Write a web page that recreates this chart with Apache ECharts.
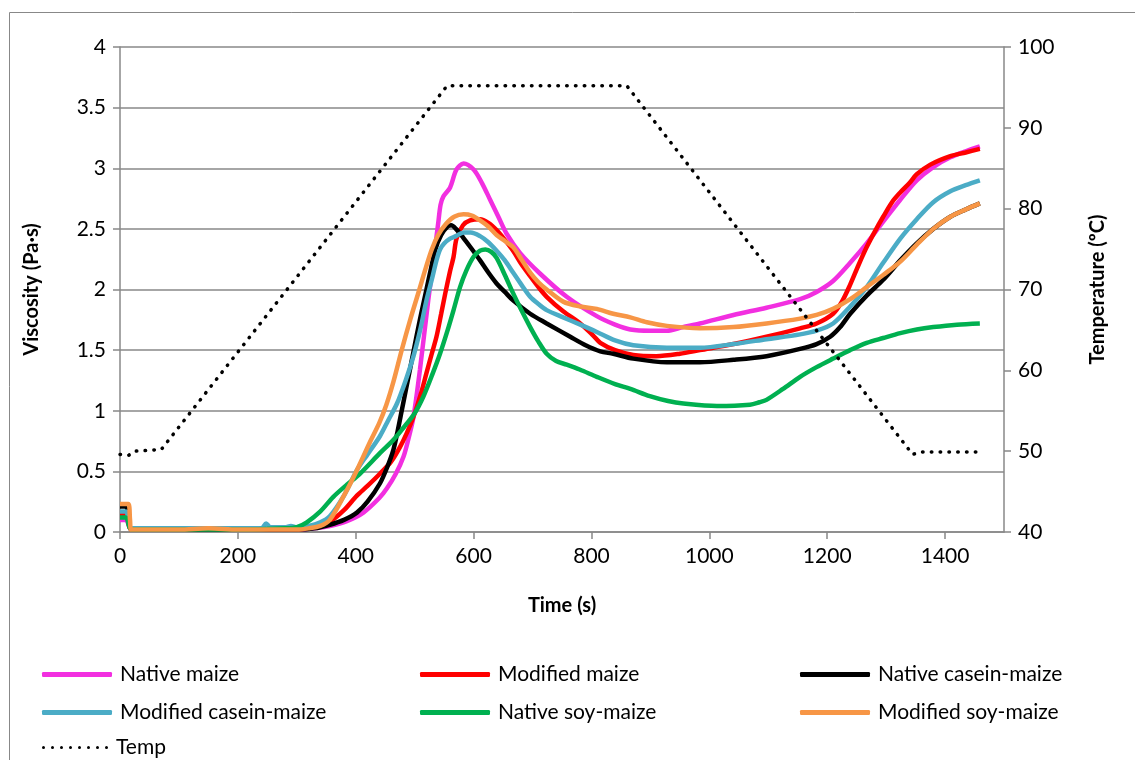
<!DOCTYPE html>
<html>
<head>
<meta charset="utf-8">
<script src="https://cdn.jsdelivr.net/npm/echarts@6/dist/echarts.min.js"></script>
<style>
  html, body { margin: 0; padding: 0; background: #fff; }
  #main { width: 1135px; height: 760px; }
</style>
</head>
<body>
<div id="main"></div>
<script>
// values, [time (s), viscosity (Pa·s)]
const nativeMaize = [[0,0.10],[10,0.10],[16,0.04],[20,0.02],[100,0.02],[200,0.02],[300,0.02],[330,0.03],[356,0.05],[385,0.09],[413,0.16],[440,0.28],[453,0.36],[468,0.48],[481,0.62],[490,0.78],[498,0.95],[509,1.34],[523,1.91],[532,2.24],[540,2.55],[544,2.70],[549,2.77],[560,2.84],[571,2.99],[583,3.04],[600,2.99],[614,2.88],[628,2.74],[642,2.60],[656,2.46],[679,2.30],[713,2.13],[758,1.94],[809,1.78],[840,1.71],[866,1.67],[900,1.66],[928,1.66],[955,1.69],[984,1.72],[1041,1.79],[1097,1.85],[1154,1.92],[1182,1.98],[1210,2.07],[1239,2.22],[1267,2.38],[1295,2.56],[1324,2.74],[1352,2.90],[1380,3.01],[1409,3.09],[1435,3.14],[1459,3.18]];
const modifiedMaize = [[0,0.15],[10,0.15],[16,0.04],[20,0.02],[100,0.02],[200,0.02],[300,0.02],[330,0.04],[356,0.085],[380,0.18],[402,0.30],[420,0.38],[441,0.48],[460,0.58],[475,0.70],[487,0.82],[498,0.95],[510,1.13],[520,1.31],[529,1.47],[537,1.61],[545,1.80],[552,1.97],[560,2.15],[566,2.27],[571,2.42],[582,2.53],[594,2.57],[611,2.58],[625,2.55],[639,2.49],[653,2.41],[667,2.32],[681,2.21],[696,2.11],[710,2.02],[724,1.94],[752,1.82],[781,1.72],[803,1.62],[815,1.56],[840,1.50],[871,1.46],[910,1.45],[950,1.47],[984,1.50],[1041,1.55],[1097,1.61],[1154,1.68],[1182,1.72],[1210,1.80],[1225,1.90],[1239,2.04],[1253,2.20],[1267,2.35],[1281,2.48],[1295,2.60],[1310,2.72],[1324,2.80],[1340,2.88],[1352,2.95],[1375,3.03],[1409,3.10],[1435,3.13],[1459,3.16]];
const nativeCaseinMaize = [[0,0.21],[10,0.21],[16,0.05],[20,0.02],[100,0.02],[200,0.02],[300,0.02],[330,0.03],[356,0.06],[380,0.10],[402,0.16],[420,0.25],[441,0.40],[453,0.53],[464,0.68],[471,0.83],[478,1.00],[485,1.17],[492,1.34],[503,1.61],[511,1.80],[520,2.00],[528,2.18],[535,2.33],[545,2.45],[556,2.52],[562,2.53],[570,2.50],[582,2.43],[596,2.34],[611,2.24],[625,2.14],[639,2.05],[653,1.98],[667,1.91],[696,1.80],[724,1.72],[764,1.61],[790,1.54],[815,1.49],[837,1.47],[871,1.43],[928,1.40],[984,1.40],[1041,1.42],[1097,1.45],[1154,1.51],[1182,1.55],[1205,1.61],[1222,1.69],[1239,1.80],[1267,1.95],[1295,2.08],[1324,2.24],[1352,2.38],[1380,2.50],[1409,2.60],[1435,2.66],[1459,2.71]];
const modifiedCaseinMaize = [[0,0.17],[10,0.17],[16,0.05],[20,0.03],[100,0.03],[200,0.03],[240,0.03],[248,0.07],[255,0.04],[280,0.04],[290,0.05],[300,0.04],[320,0.05],[340,0.08],[356,0.13],[380,0.30],[402,0.51],[420,0.64],[441,0.79],[455,0.92],[470,1.06],[484,1.24],[498,1.45],[510,1.68],[520,1.91],[529,2.08],[537,2.24],[543,2.33],[550,2.38],[560,2.42],[570,2.44],[583,2.47],[595,2.47],[611,2.44],[625,2.39],[639,2.32],[653,2.24],[667,2.14],[681,2.04],[696,1.94],[710,1.88],[724,1.83],[752,1.77],[781,1.71],[809,1.65],[840,1.58],[871,1.54],[928,1.52],[984,1.52],[1041,1.55],[1097,1.59],[1154,1.63],[1182,1.66],[1210,1.72],[1239,1.86],[1267,2.02],[1295,2.22],[1324,2.42],[1352,2.58],[1380,2.72],[1409,2.81],[1435,2.86],[1459,2.90]];
const nativeSoyMaize = [[0,0.12],[10,0.12],[16,0.04],[20,0.02],[100,0.02],[200,0.02],[280,0.03],[300,0.04],[317,0.08],[340,0.17],[362,0.29],[385,0.39],[407,0.48],[441,0.65],[464,0.76],[481,0.86],[500,0.98],[515,1.12],[530,1.30],[543,1.47],[555,1.65],[566,1.83],[577,2.02],[588,2.16],[600,2.27],[611,2.32],[620,2.33],[630,2.31],[639,2.26],[653,2.12],[667,1.97],[681,1.83],[696,1.69],[710,1.57],[724,1.47],[740,1.41],[758,1.38],[780,1.34],[809,1.28],[840,1.22],[866,1.18],[899,1.12],[930,1.08],[956,1.06],[1013,1.04],[1069,1.05],[1085,1.07],[1097,1.09],[1125,1.18],[1154,1.28],[1182,1.36],[1210,1.43],[1239,1.50],[1267,1.56],[1295,1.60],[1324,1.64],[1352,1.67],[1380,1.69],[1420,1.71],[1459,1.72]];
const modifiedSoyMaize = [[0,0.23],[14,0.23],[17,0.10],[19,0.02],[100,0.02],[150,0.03],[200,0.02],[300,0.02],[320,0.03],[340,0.05],[356,0.10],[380,0.30],[402,0.51],[425,0.75],[440,0.90],[452,1.05],[464,1.24],[478,1.50],[493,1.76],[508,2.00],[519,2.18],[529,2.33],[540,2.45],[553,2.54],[567,2.60],[583,2.62],[597,2.61],[611,2.57],[625,2.52],[639,2.45],[653,2.40],[667,2.35],[681,2.25],[696,2.14],[710,2.06],[724,2.00],[752,1.90],[781,1.86],[809,1.84],[837,1.80],[866,1.77],[894,1.73],[928,1.70],[984,1.68],[1041,1.69],[1097,1.72],[1154,1.76],[1182,1.79],[1210,1.84],[1239,1.92],[1267,2.02],[1295,2.12],[1324,2.23],[1352,2.37],[1380,2.50],[1409,2.60],[1435,2.66],[1459,2.71]];
// [time (s), temperature (ºC)]
const temp = [[0,49.6],[15,49.5],[25,50.0],[70,50.2],[555,95.2],[860,95.2],[1345,49.6],[1360,49.9],[1460,49.9]];

const seriesNames = ["Native maize", "Modified maize", "Native casein-maize", "Modified casein-maize", "Native soy-maize", "Modified soy-maize"];
const seriesColors = ["#f22fe0", "#ff0000", "#000000", "#4bacc6", "#00b050", "#f79646"];
const seriesData = [nativeMaize, modifiedMaize, nativeCaseinMaize, modifiedCaseinMaize, nativeSoyMaize, modifiedSoyMaize];

const font = "Lato, 'Liberation Sans', sans-serif";
const gray = "#888888";

// dotted legend icon: a row of 8 small dots
let dots = "path://";
for (let k = 0; k < 8; k++) {
  const cx = 1.5 + k * 9;
  dots += "M" + (cx - 1.5) + ",1.5a1.5,1.5 0 1,0 3,0a1.5,1.5 0 1,0 -3,0z";
}

const chart = echarts.init(document.getElementById("main"));

const series = seriesData.map((d, i) => ({
  name: seriesNames[i],
  type: "line",
  data: d,
  symbol: "none",
  smooth: 0.3,
  itemStyle: { color: seriesColors[i] },
  lineStyle: { width: 4.5, color: seriesColors[i] }
}));
series.push({
  name: "Temp",
  type: "line",
  yAxisIndex: 1,
  data: temp,
  symbol: "none",
  itemStyle: { color: "#000" },
  lineStyle: { width: 3.5, color: "#000", type: [0.5, 8.3], cap: "round" }
});

// legend: 3 columns, one legend per entry
const legendSlots = [
  [42, 676], [420, 676], [800, 676],
  [42, 714], [420, 714], [800, 714],
  [42, 749]
];
const legends = seriesNames.concat(["Temp"]).map((n, i) => {
  const isTemp = n === "Temp";
  return {
    data: [n],
    left: legendSlots[i][0],
    top: legendSlots[i][1] - 12,
    padding: 0,
    icon: isTemp ? dots : "roundRect",
    itemWidth: isTemp ? 66 : 70,
    itemHeight: isTemp ? 3 : 5,
    selectedMode: false,
    textStyle: { fontFamily: font, fontSize: 21, color: "#000", padding: [0, 0, 0, 3] }
  };
});

const option = {
  animation: false,
  backgroundColor: "#fff",
  graphic: [{
    type: "rect",
    shape: { x: 9.5, y: 12.5, width: 1200, height: 800 },
    style: { fill: "none", stroke: gray, lineWidth: 1 },
    silent: true
  }],
  grid: { left: 120, top: 47, right: 131, bottom: 228 },
  legend: legends,
  xAxis: {
    type: "value",
    min: 0, max: 1500, interval: 200,
    name: "Time (s)",
    nameLocation: "middle",
    nameGap: 64,
    nameTextStyle: { fontFamily: font, fontSize: 20, fontWeight: "bold", color: "#000" },
    axisLine: { show: true, lineStyle: { color: gray, width: 1.5 } },
    axisTick: { show: true, length: 7, lineStyle: { color: gray, width: 1.5 } },
    axisLabel: { showMaxLabel: false, formatter: v => String(v), fontFamily: font, fontSize: 21, color: "#000", margin: 14 },
    splitLine: { show: false }
  },
  yAxis: [{
    type: "value",
    min: 0, max: 4, interval: 0.5,
    name: "Viscosity (Pa·s)",
    nameLocation: "middle",
    nameRotate: 90,
    nameGap: 78,
    nameTextStyle: { fontFamily: font, fontSize: 20, fontWeight: "bold", color: "#000" },
    axisLine: { show: true, lineStyle: { color: gray, width: 1.5 } },
    axisTick: { show: true, length: 7, lineStyle: { color: gray, width: 1.5 } },
    axisLabel: { fontFamily: font, fontSize: 21, color: "#000", margin: 14 },
    splitLine: { show: true, lineStyle: { color: gray, width: 1.5 } }
  }, {
    type: "value",
    position: "right",
    min: 40, max: 100, interval: 10,
    name: "Temperature (ºC)",
    nameLocation: "middle",
    nameRotate: 90,
    nameGap: 84,
    nameTextStyle: { fontFamily: font, fontSize: 20, fontWeight: "bold", color: "#000" },
    axisLine: { show: true, lineStyle: { color: gray, width: 1.5 } },
    axisTick: { show: true, length: 7, lineStyle: { color: gray, width: 1.5 } },
    axisLabel: { fontFamily: font, fontSize: 21, color: "#000", margin: 14 },
    splitLine: { show: false }
  }],
  series: series
};

chart.setOption(option);
</script>
</body>
</html>
